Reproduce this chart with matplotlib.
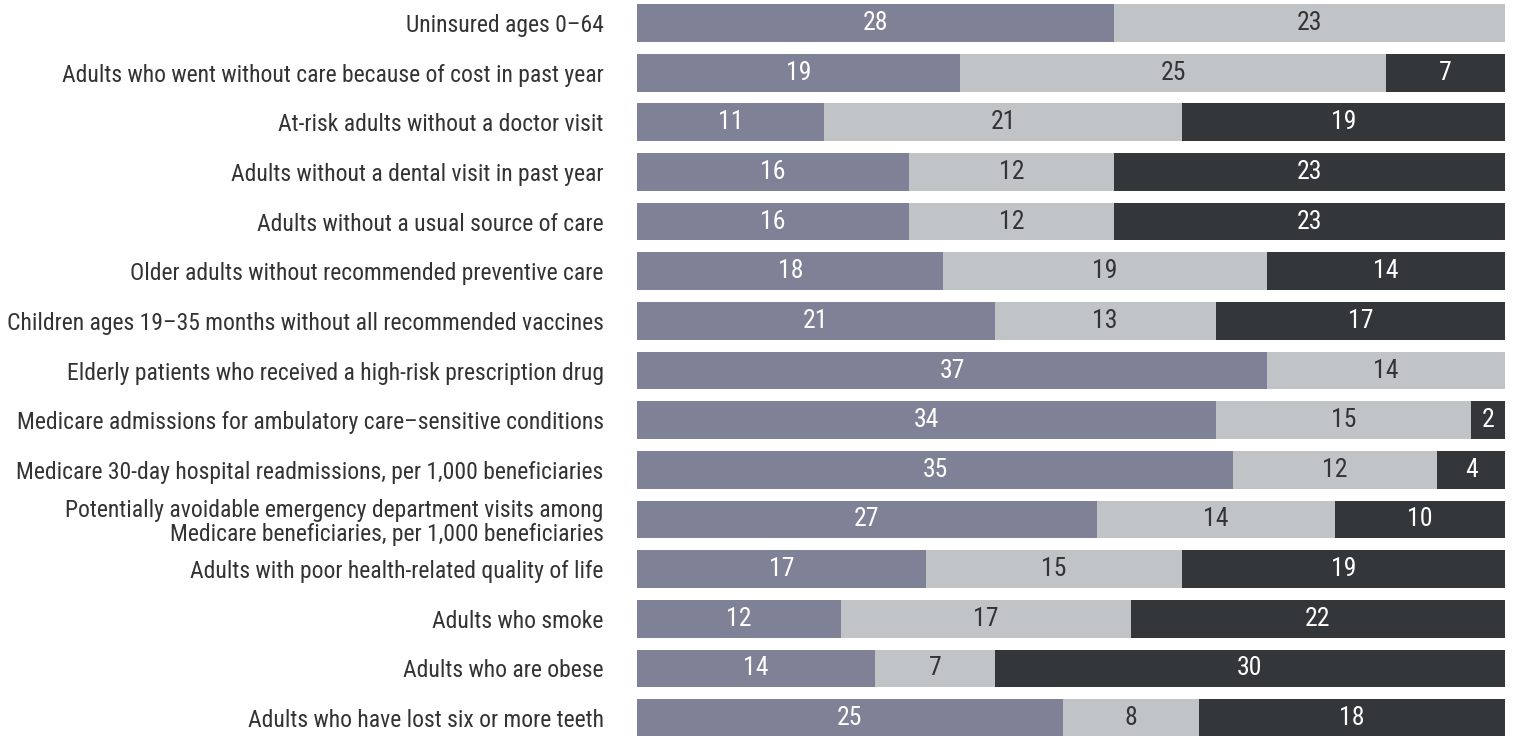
import matplotlib
matplotlib.use("Agg")
import matplotlib.pyplot as plt
import numpy as np

plt.rcParams['font.family'] = ['Roboto Condensed', 'Roboto', 'DejaVu Sans']

# indicators, top to bottom
labels = [
    "Uninsured ages 0\u201364",
    "Adults who went without care because of cost in past year",
    "At-risk adults without a doctor visit",
    "Adults without a dental visit in past year",
    "Adults without a usual source of care",
    "Older adults without recommended preventive care",
    "Children ages 19\u201335 months without all recommended vaccines",
    "Elderly patients who received a high-risk prescription drug",
    "Medicare admissions for ambulatory care\u2013sensitive conditions",
    "Medicare 30-day hospital readmissions, per 1,000 beneficiaries",
    "Potentially avoidable emergency department visits among\nMedicare beneficiaries, per 1,000 beneficiaries",
    "Adults with poor health-related quality of life",
    "Adults who smoke",
    "Adults who are obese",
    "Adults who have lost six or more teeth",
]
improved = [28, 19, 11, 16, 16, 18, 21, 37, 34, 35, 27, 17, 12, 14, 25]
no_change = [23, 25, 21, 12, 12, 19, 13, 14, 15, 12, 14, 15, 17, 7, 8]
worsened = [0, 7, 19, 23, 23, 14, 17, 0, 2, 4, 10, 19, 22, 30, 18]

colors = ["#7f8296", "#c0c4c7", "#33373a"]
text_colors = ["white", "#333333", "white"]

fig = plt.figure(figsize=(15.15, 7.36), dpi=100)
ax = fig.add_axes([0.4205, -0.0093, 0.573, 1.0117])

y = np.arange(len(labels))
left = np.zeros(len(labels))
for vals, col, tcol in zip([improved, no_change, worsened], colors, text_colors):
    vals = np.array(vals)
    ax.barh(y, vals, left=left, height=0.76, color=col, edgecolor="none")
    for yi, (l, v) in enumerate(zip(left, vals)):
        if v > 0:
            ax.text(l + v / 2, yi, str(v), ha="center", va="center",
                    color=tcol, fontsize=18.5)
    left = left + vals

ax.set_xlim(0, 51)
ax.set_ylim(len(labels) - 0.5, -0.5)
ax.set_yticks(y)
ax.set_yticklabels(labels, fontsize=17, color="#333333", ha="right",
                   linespacing=1.08)
ax.tick_params(axis="y", length=0, pad=24)
ax.set_xticks([])
for s in ax.spines.values():
    s.set_visible(False)

fig.savefig("out.png", dpi=100)
